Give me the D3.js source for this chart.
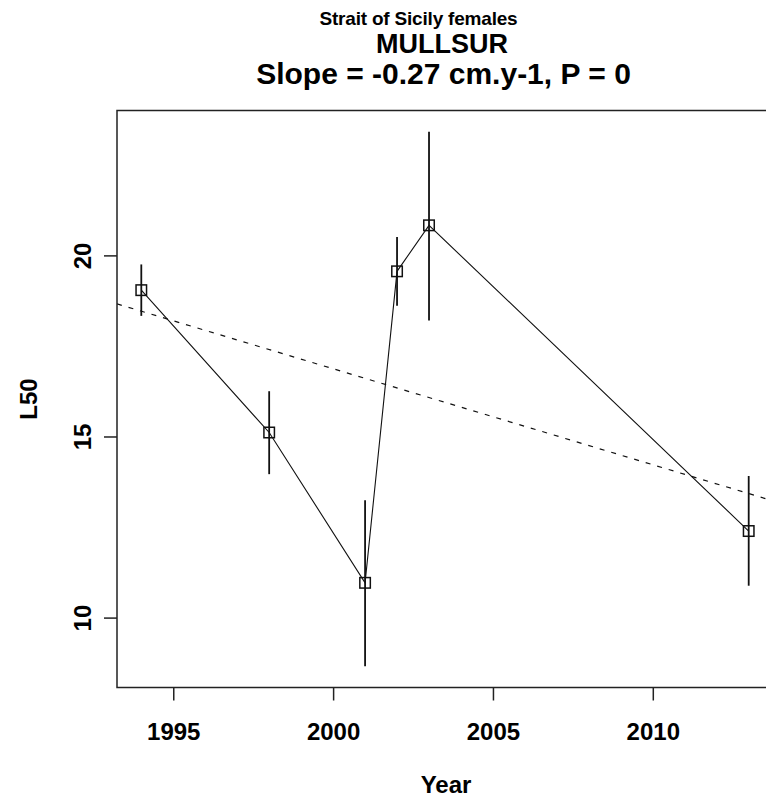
<!DOCTYPE html>
<html>
<head>
<meta charset="utf-8">
<script src="https://cdn.jsdelivr.net/npm/d3@7"></script>
<style>
  body { margin: 0; background: #fff; }
  svg { display: block; font-family: "Liberation Sans", Arial, sans-serif; font-weight: bold; }
</style>
</head>
<body>
<div class="chart-container"></div>
<script>
// Data
const years = [1994, 1998, 2001, 2002, 2003, 2013];
const l50 = [19.04, 15.11, 10.96, 19.56, 20.83, 12.39];
const l50Lower = [18.33, 13.96, 8.66, 18.61, 18.2, 10.88];
const l50Upper = [19.75, 16.25, 13.24, 20.51, 23.41, 13.91];

// regression line (value at 2000 and slope per year)
const trendAt2000 = 16.87;
const trendSlope = -0.265;

const xTicks = [1995, 2000, 2005, 2010];
const yTicks = [10, 15, 20];

const subTitle = "Strait of Sicily females";
const speciesTitle = "MULLSUR";
const slopeTitle = "Slope = -0.27 cm.y-1, P = 0";

document.addEventListener("DOMContentLoaded", function () {

  const width = 766;
  const height = 798;
  const left = 117, right = 773, top = 110.5, bottom = 687.5;

  const svg = d3.select(".chart-container")
      .append("svg")
      .attr("width", width)
      .attr("height", height);

  // R style axis ranges: data range padded by 4%
  const xPad = (d3.max(years) - d3.min(years)) * 0.04;
  const x = d3.scaleLinear()
      .domain([d3.min(years) - xPad, d3.max(years) + xPad])
      .range([left, right]);

  const yPad = (d3.max(l50Upper) - d3.min(l50Lower)) * 0.04;
  const y = d3.scaleLinear()
      .domain([d3.min(l50Lower) - yPad, d3.max(l50Upper) + yPad])
      .range([bottom, top]);

  const pts = years.map((yr, i) => ({ year: yr, v: l50[i], lo: l50Lower[i], hi: l50Upper[i] }));

  svg.append("clipPath").attr("id", "plot-clip")
      .append("rect")
      .attr("x", left).attr("y", top)
      .attr("width", right - left).attr("height", bottom - top);

  // dashed regression line
  const xd = x.domain();
  svg.append("line")
      .attr("clip-path", "url(#plot-clip)")
      .attr("x1", x(xd[0]))
      .attr("y1", y(trendAt2000 + trendSlope * (xd[0] - 2000)))
      .attr("x2", x(xd[1]))
      .attr("y2", y(trendAt2000 + trendSlope * (xd[1] - 2000)))
      .attr("stroke", "#111")
      .attr("stroke-width", 1.2)
      .attr("stroke-dasharray", "5,7");

  // connecting line
  svg.append("path")
      .datum(pts)
      .attr("d", d3.line().x(d => x(d.year)).y(d => y(d.v)))
      .attr("fill", "none")
      .attr("stroke", "#111")
      .attr("stroke-width", 1.1);

  // error bars
  svg.selectAll(".err")
      .data(pts)
      .enter()
      .append("line")
      .attr("class", "err")
      .attr("x1", d => x(d.year)).attr("x2", d => x(d.year))
      .attr("y1", d => y(d.lo)).attr("y2", d => y(d.hi))
      .attr("stroke", "#111")
      .attr("stroke-width", 1.8);

  // square markers
  const sq = 10.5;
  svg.selectAll(".pt")
      .data(pts)
      .enter()
      .append("rect")
      .attr("class", "pt")
      .attr("x", d => x(d.year) - sq / 2)
      .attr("y", d => y(d.v) - sq / 2)
      .attr("width", sq).attr("height", sq)
      .attr("fill", "none")
      .attr("stroke", "#111")
      .attr("stroke-width", 1.5);

  // plot box
  svg.append("rect")
      .attr("x", left).attr("y", top)
      .attr("width", right - left).attr("height", bottom - top)
      .attr("fill", "none")
      .attr("stroke", "#222")
      .attr("stroke-width", 1.5);

  // x axis
  const xAxis = svg.append("g")
      .attr("transform", `translate(0,${bottom})`)
      .call(d3.axisBottom(x).tickValues(xTicks).tickFormat(d3.format("d")).tickSize(13).tickSizeOuter(0));
  xAxis.select(".domain").remove();
  xAxis.selectAll(".tick line").attr("stroke", "#222").attr("stroke-width", 1.5);
  xAxis.selectAll(".tick text")
      .attr("y", 52).attr("dy", null)
      .attr("fill", "#000")
      .style("font-size", "24px")
      .style("font-family", "'Liberation Sans', Arial, sans-serif")
      .style("font-weight", "bold");

  // y axis
  const yAxis = svg.append("g")
      .attr("transform", `translate(${left},0)`)
      .call(d3.axisLeft(y).tickValues(yTicks).tickSize(13).tickSizeOuter(0));
  yAxis.select(".domain").remove();
  yAxis.selectAll(".tick line").attr("stroke", "#222").attr("stroke-width", 1.5);
  yAxis.selectAll(".tick text")
      .attr("x", null).attr("dy", null)
      .attr("transform", "translate(-26,0) rotate(-90)")
      .attr("text-anchor", "middle")
      .attr("fill", "#000")
      .style("font-size", "24px")
      .style("font-family", "'Liberation Sans', Arial, sans-serif")
      .style("font-weight", "bold");

  // axis titles
  svg.append("text")
      .attr("x", 446).attr("y", 793)
      .attr("text-anchor", "middle")
      .style("font-size", "24px")
      .text("Year");

  svg.append("text")
      .attr("transform", `translate(37,${(top + bottom) / 2}) rotate(-90)`)
      .attr("text-anchor", "middle")
      .style("font-size", "24px")
      .text("L50");

  // titles
  svg.append("text")
      .attr("x", 418.5).attr("y", 25)
      .attr("text-anchor", "middle")
      .style("font-size", "19px")
      .style("letter-spacing", "-0.2px")
      .text(subTitle);

  svg.append("text")
      .attr("x", 442).attr("y", 53)
      .attr("text-anchor", "middle")
      .style("font-size", "27px")
      .text(speciesTitle);

  svg.append("text")
      .attr("x", 443.5).attr("y", 83.5)
      .attr("text-anchor", "middle")
      .style("font-size", "30px")
      .text(slopeTitle);
});
</script>
</body>
</html>
